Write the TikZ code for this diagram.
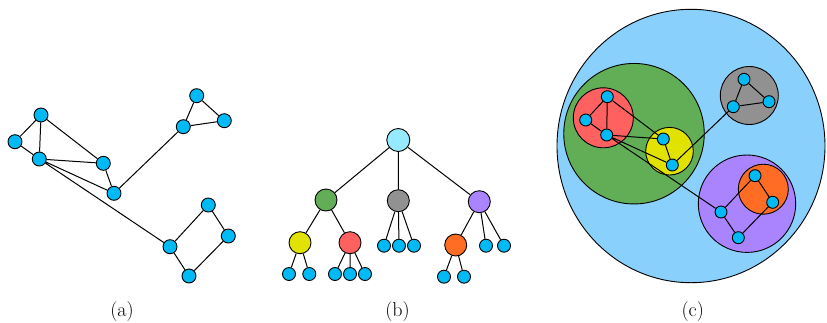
\documentclass[tikz,border=0pt]{standalone}
\usetikzlibrary{shapes.geometric}
\definecolor{nodeblue}{RGB}{0,186,245}
\definecolor{bigblue}{RGB}{137,208,252}
\definecolor{rootcyan}{RGB}{150,234,255}
\definecolor{cgreen}{RGB}{98,174,87}
\definecolor{cgray}{RGB}{145,145,145}
\definecolor{cpurple}{RGB}{170,132,255}
\definecolor{cred}{RGB}{255,96,96}
\definecolor{cyellow}{RGB}{226,226,0}
\definecolor{corange}{RGB}{255,108,36}
\tikzset{sublabeltext/.style={inner sep=0pt,anchor=base,font=\fontsize{20}{24}\selectfont}}
\begin{document}
\begin{tikzpicture}[x=1pt,y=-1pt,
  vert/.style={circle,draw=black,line width=0.9pt,fill=nodeblue,inner sep=0pt,minimum size=14pt},
  cvert/.style={circle,draw=black,line width=0.9pt,fill=nodeblue,inner sep=0pt,minimum size=12pt},
  leaf/.style={circle,draw=black,line width=0.9pt,fill=nodeblue,inner sep=0pt,minimum size=13pt},
  tnode/.style={circle,draw=black,line width=0.9pt,inner sep=0pt,minimum size=22pt},
  cluster/.style={circle,draw=black,line width=0.9pt,inner sep=0pt},
  edge/.style={line width=1pt,black}]
\useasboundingbox (0,0) rectangle (827,322);

% ---------- (a) ----------
\node[vert] (a1) at (41,115) {};
\node[vert] (a2) at (15,141.7) {};
\node[vert] (a3) at (39.3,159) {};
\node[vert] (a4) at (103.3,163.3) {};
\node[vert] (a5) at (114,193.3) {};
\node[vert] (a6) at (183.3,126.7) {};
\node[vert] (a7) at (196.7,95.7) {};
\node[vert] (a8) at (224.3,120.7) {};
\node[vert] (a9) at (208.3,205) {};
\node[vert] (a10) at (228.3,236) {};
\node[vert] (a11) at (170,246.7) {};
\node[vert] (a12) at (189,276) {};
\draw[edge] (a1)--(a2) (a1)--(a3) (a2)--(a3) (a1)--(a4) (a3)--(a4) (a3)--(a5)
  (a4)--(a5) (a3)--(a11) (a5)--(a6) (a6)--(a7) (a6)--(a8) (a7)--(a8)
  (a11)--(a9) (a9)--(a10) (a10)--(a12) (a11)--(a12);

% ---------- (b) ----------
\node[tnode,fill=rootcyan,minimum size=23pt] (root) at (398.3,140) {};
\node[tnode,fill=cgreen] (bg) at (326,200) {};
\node[tnode,fill=cgray] (bgr) at (398.3,200.7) {};
\node[tnode,fill=cpurple] (bp) at (479.3,201.7) {};
\node[tnode,fill=cyellow] (by) at (300,242.7) {};
\node[tnode,fill=cred] (br) at (350,242.7) {};
\node[tnode,fill=corange] (bo) at (455.7,245) {};
\node[leaf] (y1) at (289,274) {};
\node[leaf] (y2) at (309.3,274) {};
\node[leaf] (r1) at (335,274) {};
\node[leaf] (r2) at (350,274) {};
\node[leaf] (r3) at (365,274) {};
\node[leaf] (g1) at (384,245.7) {};
\node[leaf] (g2) at (399,245.7) {};
\node[leaf] (g3) at (414,245.7) {};
\node[leaf] (o1) at (444,276.7) {};
\node[leaf] (o2) at (464,276.7) {};
\node[leaf] (p1) at (486,245.7) {};
\node[leaf] (p2) at (504,245.7) {};
\draw[edge] (root)--(bg) (root)--(bgr) (root)--(bp)
  (bg)--(by) (bg)--(br) (bp)--(bo) (bp)--(p1) (bp)--(p2)
  (bgr)--(g1) (bgr)--(g2) (bgr)--(g3)
  (by)--(y1) (by)--(y2) (br)--(r1) (br)--(r2) (br)--(r3)
  (bo)--(o1) (bo)--(o2);

% ---------- (c) ----------
\node[ellipse,draw=black,line width=0.9pt,fill=bigblue,inner sep=0pt,minimum width=268pt,minimum height=273.4pt] (cbig) at (691,146) {};
\node[cluster,fill=cgreen,minimum size=140.5pt] (cgr) at (634,133.7) {};
\node[cluster,fill=cred,minimum size=60pt] (cre) at (603.3,117.8) {};
\node[cluster,fill=cyellow,minimum size=47.6pt] (cye) at (669.5,151.2) {};
\node[cluster,fill=cgray,minimum size=58pt] (cga) at (749.3,95.5) {};
\node[cluster,fill=cpurple,minimum size=97.4pt] (cpu) at (747,203.7) {};
\node[cluster,fill=corange,minimum size=50pt] (cor) at (763.3,189.2) {};
\node[cvert] (c1) at (607.3,96.7) {};
\node[cvert] (c2) at (585.7,120) {};
\node[cvert] (c3) at (606.7,135) {};
\node[cvert] (c4) at (663.3,139) {};
\node[cvert] (c5) at (672.3,165) {};
\node[cvert] (c7) at (744,79.3) {};
\node[cvert] (c6) at (733.3,106.7) {};
\node[cvert] (c8) at (769,101.7) {};
\node[cvert] (c9) at (755,175.7) {};
\node[cvert] (c10) at (772.7,202.3) {};
\node[cvert] (c11) at (721,212) {};
\node[cvert] (c12) at (738.3,237.7) {};
\draw[edge] (c1)--(c2) (c1)--(c3) (c2)--(c3) (c1)--(c4) (c3)--(c4) (c3)--(c5)
  (c4)--(c5) (c3)--(c11) (c5)--(c6) (c6)--(c7) (c6)--(c8) (c7)--(c8)
  (c11)--(c9) (c9)--(c10) (c10)--(c12) (c11)--(c12);

% ---------- labels ----------
\node[sublabeltext] (la) at (122,316) {(a)};
\node[sublabeltext] (lb) at (397.5,316) {(b)};
\node[sublabeltext] (lc) at (692.7,316) {(c)};
\end{tikzpicture}
\end{document}
